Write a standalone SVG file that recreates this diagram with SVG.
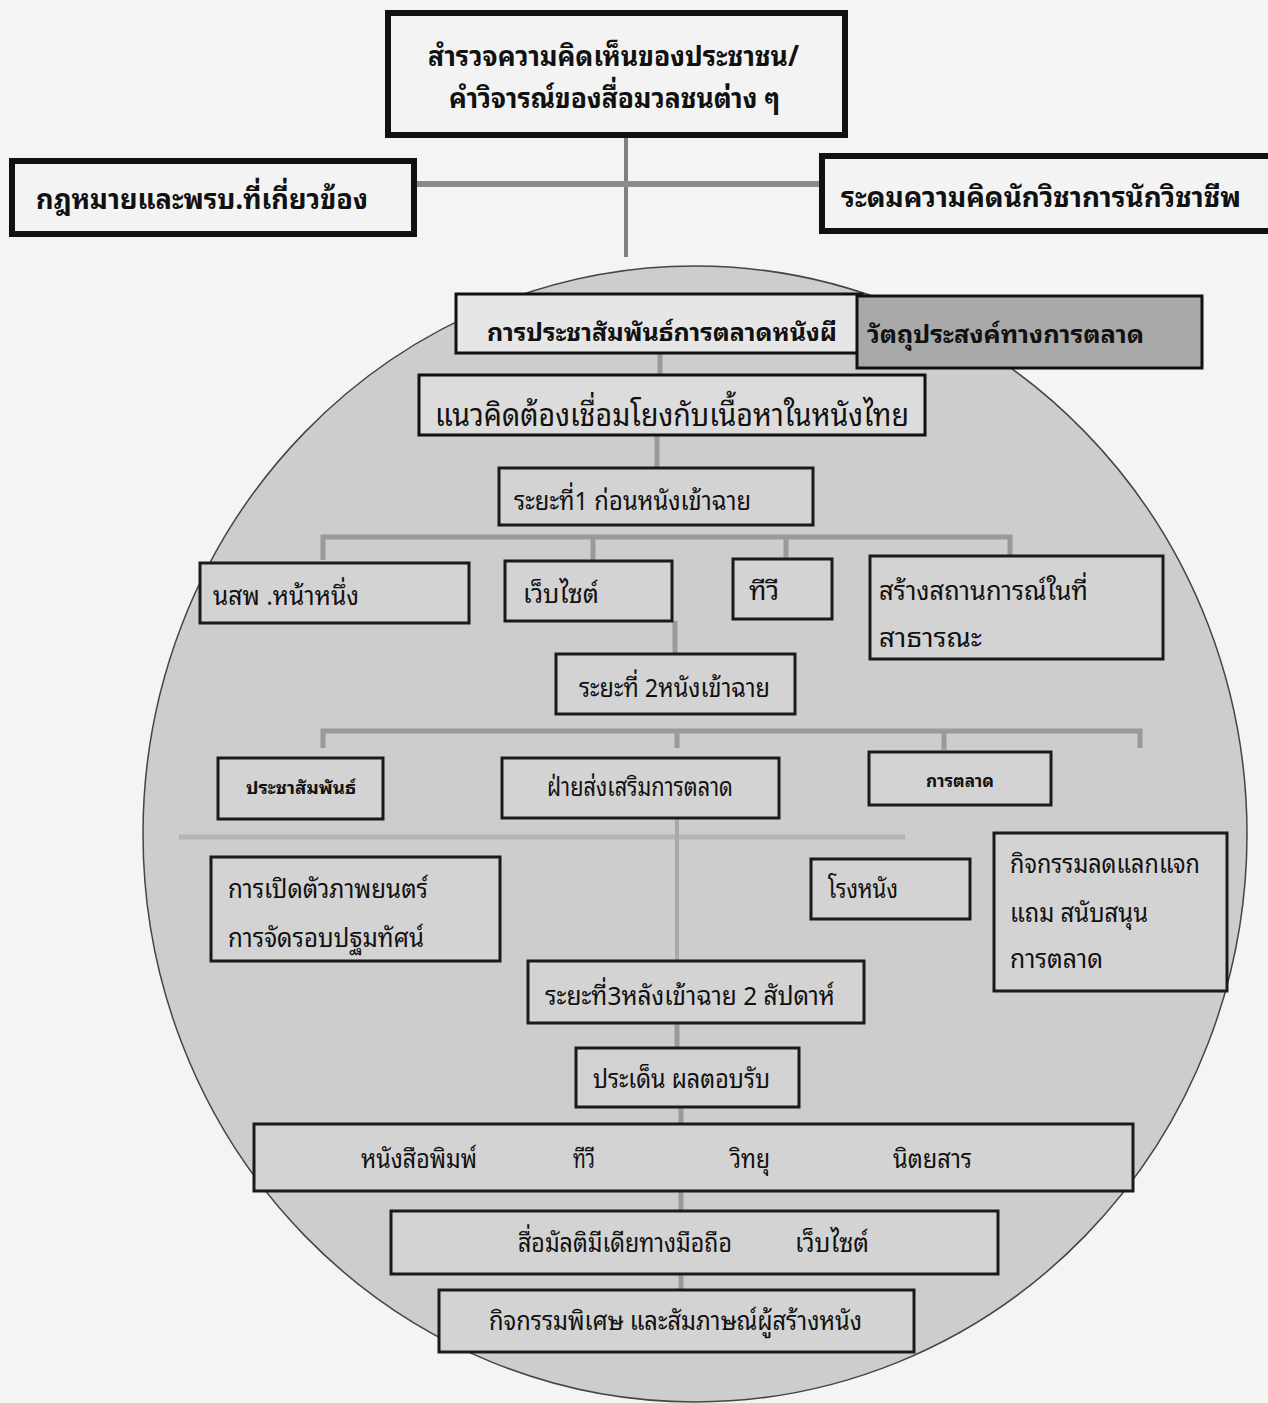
<svg xmlns="http://www.w3.org/2000/svg" width="1268" height="1403" viewBox="0 0 1268 1403">
<style>
text{font-family:"Noto Sans Thai Looped","Laksaman","Garuda","Noto Sans Thai","Noto Sans","Liberation Sans",sans-serif;fill:#111;}
.b{font-weight:bold;}
.r{font-size:26px;}
.big{font-size:32px;}
.hb{font-size:28px;font-weight:bold;}
.sb{font-size:17px;font-weight:bold;}
.top{fill:#f3f3f3;stroke:#111;stroke-width:6;}
.in{fill:#d3d3d3;stroke:#1a1a1a;stroke-width:3;}
.cn{stroke:#9a9a9a;stroke-width:5;fill:none;}
</style>
<rect x="0" y="0" width="1268" height="1403" fill="#f4f4f4"/>
<ellipse id="circle" cx="695" cy="834" rx="552" ry="568" fill="#cdcdcd" stroke="#444" stroke-width="1.5"/>
<g id="connectors">
<line x1="626" y1="138" x2="626" y2="257" stroke="#808080" stroke-width="4"/>
<line x1="415" y1="184" x2="820" y2="184" stroke="#8a8a8a" stroke-width="6"/>
<line class="cn" x1="660" y1="348" x2="856" y2="348"/>
<line class="cn" x1="660" y1="354" x2="660" y2="374"/>
<line class="cn" x1="657" y1="435" x2="657" y2="467"/>
<path class="cn" d="M323 560 V537 H1010 V560 M593 537 V560 M786 537 V560"/>
<line class="cn" x1="675" y1="621" x2="675" y2="653"/>
<path class="cn" d="M323 748 V731 H1140 V748 M677 731 V748 M944 731 V750"/>
<line x1="179" y1="837" x2="905" y2="837" stroke="#b4b4b4" stroke-width="5"/>
<line x1="677" y1="818" x2="677" y2="960" stroke="#a8a8a8" stroke-width="4"/>
<line class="cn" x1="677" y1="1023" x2="677" y2="1047"/>
<line class="cn" x1="681" y1="1107" x2="681" y2="1123"/>
<line class="cn" x1="681" y1="1191" x2="681" y2="1210"/>
<line class="cn" x1="681" y1="1274" x2="681" y2="1289"/>
</g>
<g id="n-survey"><rect class="top" x="388" y="13" width="457" height="122"/>
<text class="hb" x="428" y="66" textLength="371" lengthAdjust="spacingAndGlyphs">สำรวจความคิดเห็นของประชาชน/</text>
<text class="hb" x="449" y="108" textLength="331" lengthAdjust="spacingAndGlyphs">คำวิจารณ์ของสื่อมวลชนต่าง ๆ</text></g>
<g id="n-law"><rect class="top" x="12" y="161" width="402" height="73"/>
<text class="hb" x="36" y="209" textLength="332" lengthAdjust="spacingAndGlyphs">กฎหมายและพรบ.ที่เกี่ยวข้อง</text></g>
<g id="n-brainstorm"><rect class="top" x="822" y="156" width="452" height="75"/>
<text class="hb" x="841" y="207" textLength="400" lengthAdjust="spacingAndGlyphs">ระดมความคิดนักวิชาการนักวิชาชีพ</text></g>
<g id="n-pr"><rect x="456" y="294" width="406" height="59" fill="#e6e6e6" stroke="#111" stroke-width="3"/>
<text class="b" font-size="24" x="487" y="341" textLength="350" lengthAdjust="spacingAndGlyphs">การประชาสัมพันธ์การตลาดหนังผี</text></g>
<g id="n-objective"><rect x="857" y="296" width="345" height="72" fill="#a9a9a9" stroke="#111" stroke-width="3"/>
<text class="b" font-size="24" x="867" y="343" textLength="277" lengthAdjust="spacingAndGlyphs">วัตถุประสงค์ทางการตลาด</text></g>
<g id="n-concept"><rect x="419" y="375" width="506" height="60" fill="#dcdcdc" stroke="#111" stroke-width="3"/>
<text class="big" x="435" y="426" textLength="474" lengthAdjust="spacingAndGlyphs">แนวคิดต้องเชื่อมโยงกับเนื้อหาในหนังไทย</text></g>
<g id="n-phase1"><rect class="in" x="499" y="468" width="314" height="57"/>
<text class="r" x="514" y="510" textLength="237" lengthAdjust="spacingAndGlyphs">ระยะที่1 ก่อนหนังเข้าฉาย</text></g>
<g id="n-newspaper"><rect class="in" x="200" y="563" width="269" height="60"/>
<text class="r" x="213" y="605" textLength="146" lengthAdjust="spacingAndGlyphs">นสพ .หน้าหนึ่ง</text></g>
<g id="n-website1"><rect class="in" x="505" y="561" width="167" height="60"/>
<text class="r" x="523" y="603" textLength="76" lengthAdjust="spacingAndGlyphs">เว็บไซต์</text></g>
<g id="n-tv1"><rect class="in" x="733" y="559" width="99" height="60"/>
<text class="r" x="749" y="600" textLength="30" lengthAdjust="spacingAndGlyphs">ทีวี</text></g>
<g id="n-public"><rect class="in" x="870" y="556" width="293" height="103"/>
<text class="r" x="879" y="600" textLength="209" lengthAdjust="spacingAndGlyphs">สร้างสถานการณ์ในที่</text>
<text class="r" x="879" y="647" textLength="103" lengthAdjust="spacingAndGlyphs">สาธารณะ</text></g>
<g id="n-phase2"><rect class="in" x="556" y="654" width="239" height="60"/>
<text class="r" x="579" y="697" textLength="191" lengthAdjust="spacingAndGlyphs">ระยะที่ 2หนังเข้าฉาย</text></g>
<g id="n-prdept"><rect class="in" x="218" y="758" width="165" height="61"/>
<text class="sb" x="246" y="794" textLength="110" lengthAdjust="spacingAndGlyphs">ประชาสัมพันธ์</text></g>
<g id="n-promo"><rect class="in" x="502" y="758" width="277" height="60"/>
<text class="r" x="547" y="796" textLength="186" lengthAdjust="spacingAndGlyphs">ฝ่ายส่งเสริมการตลาด</text></g>
<g id="n-marketing"><rect class="in" x="869" y="752" width="182" height="53"/>
<text class="sb" x="926" y="787" textLength="68" lengthAdjust="spacingAndGlyphs">การตลาด</text></g>
<g id="n-launch"><rect class="in" x="211" y="857" width="289" height="104"/>
<text class="r" x="228" y="898" textLength="200" lengthAdjust="spacingAndGlyphs">การเปิดตัวภาพยนตร์</text>
<text class="r" x="228" y="947" textLength="196" lengthAdjust="spacingAndGlyphs">การจัดรอบปฐมทัศน์</text></g>
<g id="n-cinema"><rect class="in" x="811" y="859" width="159" height="60"/>
<text class="r" x="828" y="898" textLength="70" lengthAdjust="spacingAndGlyphs">โรงหนัง</text></g>
<g id="n-activity"><rect class="in" x="994" y="833" width="233" height="158"/>
<text class="r" x="1010" y="873" textLength="190" lengthAdjust="spacingAndGlyphs">กิจกรรมลดแลกแจก</text>
<text class="r" x="1010" y="922" textLength="138" lengthAdjust="spacingAndGlyphs">แถม สนับสนุน</text>
<text class="r" x="1010" y="968" textLength="93" lengthAdjust="spacingAndGlyphs">การตลาด</text></g>
<g id="n-phase3"><rect class="in" x="528" y="961" width="336" height="62"/>
<text class="r" x="545" y="1005" textLength="290" lengthAdjust="spacingAndGlyphs">ระยะที่3หลังเข้าฉาย 2 สัปดาห์</text></g>
<g id="n-feedback"><rect class="in" x="576" y="1048" width="223" height="59"/>
<text class="r" x="593" y="1088" textLength="177" lengthAdjust="spacingAndGlyphs">ประเด็น ผลตอบรับ</text></g>
<g id="n-media"><rect class="in" x="254" y="1124" width="879" height="67"/>
<text class="r" x="361" y="1168" textLength="116" lengthAdjust="spacingAndGlyphs">หนังสือพิมพ์</text>
<text class="r" x="573" y="1168" textLength="22" lengthAdjust="spacingAndGlyphs">ทีวี</text>
<text class="r" x="730" y="1168" textLength="40" lengthAdjust="spacingAndGlyphs">วิทยุ</text>
<text class="r" x="893" y="1168" textLength="79" lengthAdjust="spacingAndGlyphs">นิตยสาร</text></g>
<g id="n-multimedia"><rect class="in" x="391" y="1211" width="607" height="63"/>
<text class="r" x="518" y="1252" textLength="214" lengthAdjust="spacingAndGlyphs">สื่อมัลติมีเดียทางมือถือ</text>
<text class="r" x="795" y="1252" textLength="74" lengthAdjust="spacingAndGlyphs">เว็บไซต์</text></g>
<g id="n-special"><rect class="in" x="439" y="1290" width="475" height="62"/>
<text class="r" x="489" y="1330" textLength="373" lengthAdjust="spacingAndGlyphs">กิจกรรมพิเศษ และสัมภาษณ์ผู้สร้างหนัง</text></g>
</svg>
